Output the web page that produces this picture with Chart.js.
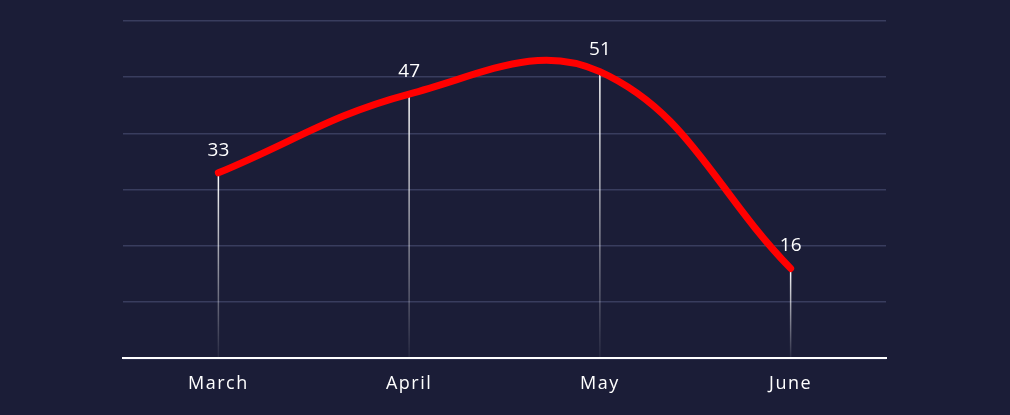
<!DOCTYPE html>
<html>
<head>
<meta charset="utf-8">
<script src="https://cdn.jsdelivr.net/npm/chart.js@4/dist/chart.umd.min.js"></script>
<style>
  html, body { margin: 0; padding: 0; background: #1b1d37; }
  #wrap { width: 1010px; height: 415px; }
</style>
</head>
<body>
<div id="wrap"><canvas id="chart"></canvas></div>
<script>
const months = ['March', 'April', 'May', 'June'];
const values = [33, 47, 51, 16];
const yMax = 60;
const yStep = 10;

const fontFamily = '"Open Sans", Lato, sans-serif';

// vertical drop lines + value labels
const dropLines = {
    id: 'dropLines',
    beforeDraw(chart) {
        // spaced-out lettering like the original
        chart.ctx.letterSpacing = '1.5px';
    },
    beforeDatasetsDraw(chart) {
        const ctx = chart.ctx;
        const meta = chart.getDatasetMeta(0);
        const bottom = chart.scales.y.getPixelForValue(0);
        ctx.save();
        meta.data.forEach(pt => {
            const g = ctx.createLinearGradient(0, pt.y, 0, bottom);
            g.addColorStop(0, 'rgba(255,255,255,1)');
            g.addColorStop(1, 'rgba(255,255,255,0.05)');
            ctx.strokeStyle = g;
            ctx.lineWidth = 1.5;
            ctx.beginPath();
            ctx.moveTo(pt.x, pt.y);
            ctx.lineTo(pt.x, bottom);
            ctx.stroke();
        });
        ctx.restore();
    },
    afterDatasetsDraw(chart) {
        const ctx = chart.ctx;
        const meta = chart.getDatasetMeta(0);
        ctx.save();
        ctx.fillStyle = '#ffffff';
        ctx.letterSpacing = '0px';
        ctx.font = '19px ' + fontFamily;
        ctx.textAlign = 'center';
        ctx.textBaseline = 'alphabetic';
        meta.data.forEach((pt, i) => {
            ctx.fillText(String(values[i]), pt.x, pt.y - 17);
        });
        ctx.restore();
    }
};

const ctx = document.getElementById('chart');
const myChart = new Chart(ctx, {
    type: 'line',
    data: {
        labels: months,
        datasets: [
            {
                data: values,
                borderColor: '#ff0000',
                borderWidth: 7,
                borderCapStyle: 'round',
                borderJoinStyle: 'round',
                tension: 0.4,
                pointRadius: 0,
                fill: false
            }
        ]
    },
    options: {
        responsive: true,
        maintainAspectRatio: false,
        animation: false,
        layout: {
            padding: { left: 123, right: 124, top: 21, bottom: 5 }
        },
        scales: {
            x: {
                offset: true,
                grid: { display: false, drawTicks: false },
                border: { display: true, color: '#ffffff', width: 2 },
                ticks: {
                    color: '#ffffff',
                    padding: 15,
                    font: { family: fontFamily, size: 18 }
                }
            },
            y: {
                min: 0,
                max: yMax,
                ticks: { display: false, stepSize: yStep },
                grid: { color: '#393d5e', lineWidth: 1.5, drawTicks: false },
                border: { display: false }
            }
        },
        plugins: {
            legend: { display: false },
            tooltip: { enabled: false }
        }
    },
    plugins: [dropLines]
});
</script>
</body>
</html>
